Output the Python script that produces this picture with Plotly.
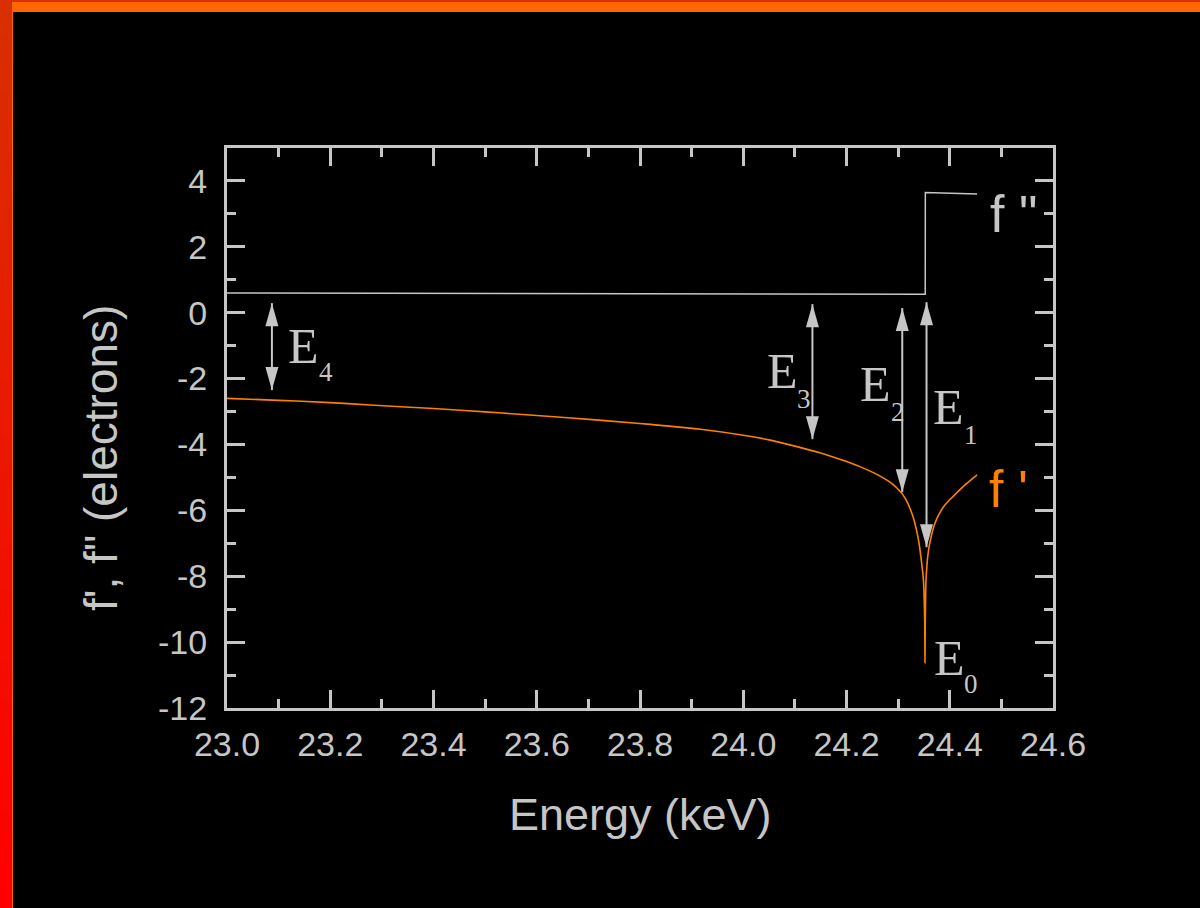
import plotly.graph_objects as go

# ---------------- data ----------------
energy_fp = [23.0, 23.1, 23.2, 23.277, 23.4, 23.5, 23.6, 23.72, 23.82, 23.917, 24.0, 24.05,
             24.1, 24.15, 24.174, 24.2, 24.227, 24.25, 24.265, 24.28, 24.291, 24.3, 24.308,
             24.316, 24.324, 24.33, 24.337, 24.341, 24.344, 24.347, 24.349, 24.3505, 24.3515,
             24.352,
             24.3525, 24.353, 24.354, 24.3555, 24.357, 24.36, 24.364, 24.369, 24.375,
             24.38, 24.388, 24.4, 24.414, 24.43, 24.453]
f_prime = [-2.60, -2.66, -2.73, -2.80, -2.91, -3.01, -3.12, -3.26, -3.39, -3.54, -3.72, -3.86,
           -4.05, -4.26, -4.38, -4.52, -4.68, -4.84, -4.96, -5.10, -5.23, -5.36, -5.50,
           -5.70, -5.98, -6.25, -6.70, -7.05, -7.40, -7.80, -8.11, -8.70, -9.40,
           -10.63,
           -9.60, -8.90, -8.11, -7.75, -7.45, -7.10, -6.80, -6.50, -6.25,
           -6.10, -5.89, -5.68, -5.46, -5.22, -4.92]

energy_fpp = [23.0, 23.5, 24.0, 24.3525, 24.3527, 24.40, 24.453]
f_dprime = [0.60, 0.58, 0.57, 0.56, 3.65, 3.63, 3.60]

x_ticks = [23.0, 23.2, 23.4, 23.6, 23.8, 24.0, 24.2, 24.4, 24.6]
y_ticks = [-12, -10, -8, -6, -4, -2, 0, 2, 4]

# double arrows: label, x, top tip, bottom tip (data units)
arrow_names = ["E4", "E3", "E2", "E1"]
arrow_x = [23.087, 24.134, 24.308, 24.355]
arrow_top = [0.29, 0.26, 0.14, 0.32]
arrow_bot = [-2.35, -3.84, -5.45, -7.12]

# ---------------- style ----------------
GRAY = "#c6c6c6"
ORANGE = "#ff8000"
SANS = "Liberation Sans, Arial, sans-serif"
SERIF = "Liberation Serif, Times New Roman, serif"

W, H = 1200, 908
L, R, T, B = 227, 1053, 148, 708
XR = [23.0, 24.6]
YR = [-12, 5]


def px2x(px):
    return XR[0] + (px - L) / (R - L) * (XR[1] - XR[0])


def py2y(py):
    return YR[0] + (B - py) / (B - T) * (YR[1] - YR[0])


def ppx(px):
    return (px - L) / (R - L)


def ppy(py):
    return (B - py) / (B - T)


fig = go.Figure()
fig.add_trace(go.Scatter(x=energy_fpp, y=f_dprime, mode="lines",
                         line=dict(color=GRAY, width=1.5), hoverinfo="skip"))
fig.add_trace(go.Scatter(x=energy_fp, y=f_prime, mode="lines",
                         line=dict(color=ORANGE, width=1.6, shape="spline", smoothing=1.0),
                         hoverinfo="skip"))

shapes = []
# decorative frame bars of the slide
n = 48
for i in range(n):
    t = i / (n - 1)
    r = int(216 + (255 - 216) * t)
    g = int(48 * (1 - t))
    y0 = i * H / n
    y1 = (i + 1) * H / n + 1
    shapes.append(dict(type="rect", xref="paper", yref="paper",
                       x0=ppx(0), x1=ppx(12), y0=ppy(y1), y1=ppy(y0),
                       fillcolor=f"rgb({r},{g},0)", line=dict(width=0), layer="below"))
shapes.append(dict(type="rect", xref="paper", yref="paper", x0=ppx(12), x1=ppx(W),
                   y0=ppy(2), y1=ppy(0), fillcolor="#d83000", line=dict(width=0), layer="below"))
shapes.append(dict(type="rect", xref="paper", yref="paper", x0=ppx(12), x1=ppx(W),
                   y0=ppy(12), y1=ppy(2), fillcolor="#ff6600", line=dict(width=0), layer="below"))
shapes.append(dict(type="rect", xref="paper", yref="paper", x0=ppx(12), x1=ppx(13),
                   y0=ppy(H), y1=ppy(2), fillcolor="#ff6600", line=dict(width=0), layer="below"))

# arrows
for xa, yt, yb in zip(arrow_x, arrow_top, arrow_bot):
    shapes.append(dict(type="line", xref="x", yref="y", x0=xa, x1=xa, y0=yt, y1=yb,
                       line=dict(color=GRAY, width=2)))
    shapes.append(dict(type="path", xref="x", yref="y", xsizemode="pixel", ysizemode="pixel",
                       xanchor=xa, yanchor=yt, path="M0,0 L-6.5,-23 L6.5,-23 Z",
                       fillcolor=GRAY, line=dict(width=0)))
    shapes.append(dict(type="path", xref="x", yref="y", xsizemode="pixel", ysizemode="pixel",
                       xanchor=xa, yanchor=yb, path="M0,0 L-6.5,23 L6.5,23 Z",
                       fillcolor=GRAY, line=dict(width=0)))

annotations = []


def txt(text, px, baseline, size, color=GRAY, family=SERIF, ratio=0.3375):
    annotations.append(dict(text=text, xref="x", yref="y", x=px2x(px),
                            y=py2y(baseline - ratio * size), xanchor="left", yanchor="middle",
                            showarrow=False, borderpad=0, borderwidth=0,
                            font=dict(size=size, color=color, family=family)))


# E labels: (main E left px, baseline, subscript left px, subscript baseline)
E_pos = {"E4": (288, 363, 319, 381), "E3": (767, 388, 797, 408), "E2": (860, 401, 891, 421),
         "E1": (933, 424, 964, 444), "E0": (934, 675, 964, 693)}
for name, (ex, eb, sx, sb) in E_pos.items():
    txt("E", ex, eb, 50)
    txt(name[1], sx, sb, 27)

txt('f "', 990, 232, 52, GRAY, SANS, 0.3465)
txt("f '", 989, 507, 52, ORANGE, SANS, 0.3465)

# axis titles
annotations.append(dict(text="Energy (keV)", xref="paper", yref="paper", x=ppx(640),
                        y=ppy(830 - 0.3465 * 45), xanchor="center", yanchor="middle",
                        showarrow=False, font=dict(size=45, color=GRAY, family=SANS)))
annotations.append(dict(text="f', f\" (electrons)", xref="paper", yref="paper", x=ppx(101),
                        y=ppy(458), xanchor="center", yanchor="middle", textangle=-90,
                        showarrow=False, font=dict(size=46, color=GRAY, family=SANS)))

axis_common = dict(showline=True, linecolor=GRAY, linewidth=3, mirror="allticks",
                   ticks="inside", ticklen=18, tickwidth=3, tickcolor=GRAY,
                   showgrid=False, zeroline=False,
                   tickfont=dict(size=34, color=GRAY, family=SANS))

fig.update_layout(
    width=W, height=H, autosize=False,
    margin=dict(l=L, r=W - R, t=T, b=H - B, pad=0),
    paper_bgcolor="black", plot_bgcolor="black",
    showlegend=False,
    xaxis=dict(range=XR, tickvals=x_ticks, ticktext=[f"{v:.1f}" for v in x_ticks],
               ticklabelstandoff=4,
               minor=dict(dtick=0.1, ticks="inside", ticklen=9, tickwidth=3, tickcolor=GRAY),
               **axis_common),
    yaxis=dict(range=YR, tickvals=y_ticks, ticktext=[str(v) for v in y_ticks],
               ticklabelstandoff=10,
               minor=dict(dtick=1, ticks="inside", ticklen=9, tickwidth=3, tickcolor=GRAY),
               **axis_common),
    shapes=shapes,
    annotations=annotations,
)

fig.write_html("out.html")
